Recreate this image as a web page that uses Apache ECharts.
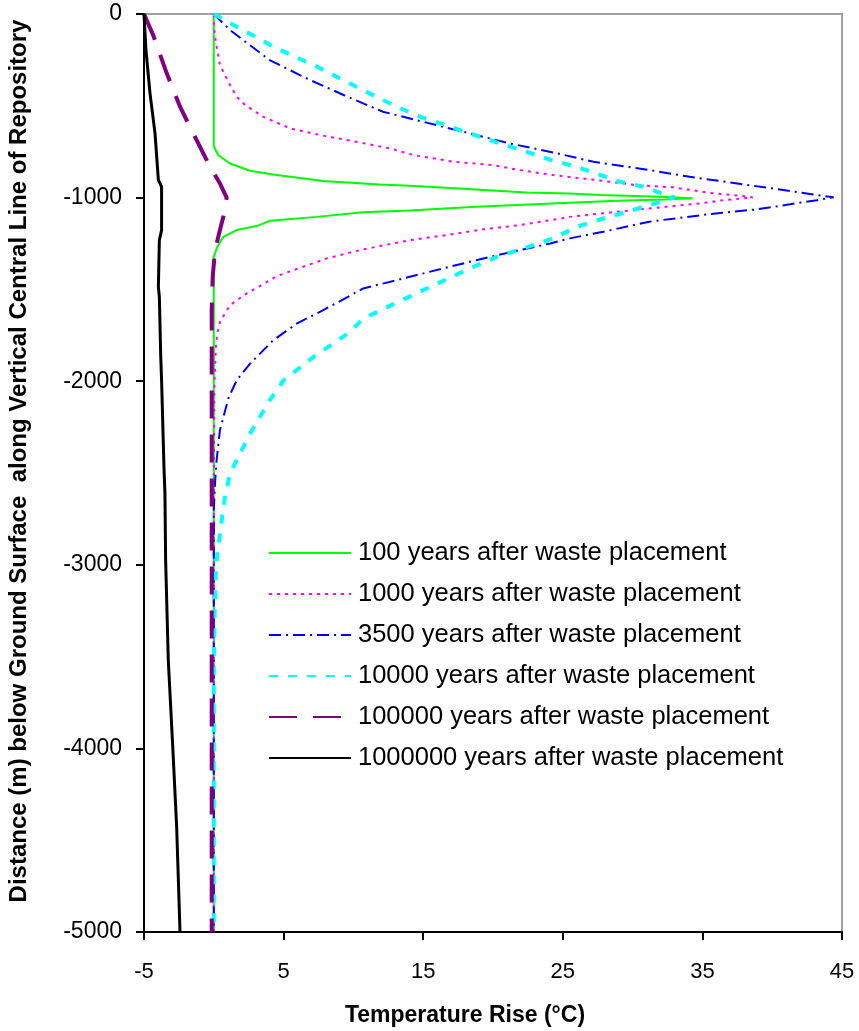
<!DOCTYPE html>
<html>
<head>
<meta charset="utf-8">
<script src="https://cdn.jsdelivr.net/npm/echarts@6/dist/echarts.min.js"></script>
<style>html,body{margin:0;padding:0;background:#fff;}#c{width:859px;height:1031px;}</style>
</head>
<body>
<div id="c"></div>
<script>
// Temperature rise (°C) vs depth (m) for each time after placement
const names = [
  '100 years after waste placement',
  '1000 years after waste placement',
  '3500 years after waste placement',
  '10000 years after waste placement',
  '100000 years after waste placement',
  '1000000 years after waste placement'
];
const xTicks = [-5, 5, 15, 25, 35, 45];

const temp100  = [0, 0, 0.3, 1.16, 2.6, 4.26, 7.84, 11.9, 14.05, 17.6, 22.4, 25.5, 27.7, 32.0, 34.3, 32.2, 28.9, 25.5, 18.8, 14.05, 10.7, 7.37, 4.03, 3.07, 1.64, 0.68, 0.25, 0, 0];
const depth100 = [0, -719, -768, -814, -854, -874, -910, -928, -936, -950, -972, -978, -986, -995, -1003, -1010, -1017, -1028, -1050, -1070, -1080, -1105, -1126, -1155, -1177, -1214, -1268, -1322, -5000];

const temp1000  = [0, 0, 0.16, 0.44, 1.16, 1.64, 2.24, 3.55, 5.46, 7.6, 10.2, 12.6, 14.3, 17.2, 20.0, 21.9, 24.3, 27.0, 30.3, 32.9, 35.5, 38.4, 38.6, 36.5, 35.0, 32.4, 28.9, 25.5, 24.6, 21.9, 19.3, 16.7, 14.05, 10.7, 8.1, 4.5, 2.36, 1.16, 0.44, 0.25, 0.16, 0.05, 0, 0];
const depth1000 = [0, -69, -160, -278, -387, -450, -496, -560, -623, -659, -696, -732, -768, -805, -823, -850, -877, -901, -932, -944, -974, -995, -1000, -1014, -1030, -1050, -1077, -1105, -1117, -1150, -1173, -1204, -1232, -1282, -1331, -1428, -1522, -1586, -1677, -1740, -1795, -2000, -2500, -5000];

const temp3500  = [0, 1.16, 2.1, 4.0, 6.9, 9.3, 12.1, 15.0, 21.2, 24.6, 27.2, 31.2, 34.1, 37.5, 40.8, 43.2, 44.4, 43.2, 38.9, 35.5, 31.2, 27.9, 25.5, 24.1, 21.9, 18.8, 16.4, 13.6, 10.7, 7.84, 5.94, 4.26, 2.6, 1.64, 1.04, 0.44, 0.2, 0.1, 0, 0];
const depth3500 = [0, -87, -142, -251, -360, -441, -532, -587, -705, -759, -805, -850, -887, -923, -959, -986, -998, -1014, -1064, -1090, -1131, -1186, -1222, -1250, -1286, -1341, -1386, -1440, -1495, -1613, -1686, -1777, -1904, -1995, -2094, -2267, -2431, -2540, -2700, -5000];

const temp10000  = [0, 1.64, 4.5, 7.4, 10.2, 13.1, 14.8, 20.5, 22.4, 24.2, 26.0, 29.1, 30.8, 32.4, 33.0, 31.2, 29.6, 27.9, 26.0, 24.3, 22.9, 20.3, 18.6, 15.5, 14.5, 12.6, 10.7, 9.76, 8.56, 7.13, 5.0, 4.0, 2.6, 1.88, 1.16, 0.8, 0.57, 0.32, 0.16, 0.05, 0, 0];
const depth10000 = [0, -69, -187, -287, -396, -505, -560, -705, -750, -796, -832, -914, -941, -986, -998, -1041, -1077, -1114, -1159, -1222, -1259, -1322, -1377, -1486, -1522, -1590, -1659, -1731, -1795, -1868, -1995, -2104, -2285, -2394, -2503, -2631, -2757, -2903, -3012, -3300, -3600, -5000];

const temp100000  = [-5, -4.33, -3.37, -2.42, -1.47, -0.87, -0.27, 0.44, 0.92, 0.8, 0.44, 0.09, -0.08, -0.15, -0.15];
const depth100000 = [0, -118, -323, -505, -650, -741, -832, -923, -1000, -1068, -1177, -1286, -1432, -1613, -5000];

const temp1000000  = [-5, -4.86, -4.57, -4.21, -3.97, -3.74, -3.74, -3.9, -3.97, -3.9, -3.8, -3.74, -3.57, -3.5, -3.45, -3.26, -2.94, -2.66, -2.42];
const depth1000000 = [0, -196, -432, -650, -905, -941, -1177, -1232, -1486, -1541, -1868, -1995, -2467, -2612, -2976, -3520, -3993, -4429, -5000];

function pairs(xs, ys) { return xs.map((x, i) => [x, ys[i]]); }

const FONT = 'Liberation Sans, Arial, sans-serif';
const styles = [
  { color: '#00ff00', width: 2, type: 'solid' },
  { color: '#ff00ff', width: 2, type: [3, 5] },
  { color: '#0000ff', width: 2, type: [12, 5, 2, 5] },
  { color: '#00ffff', width: 4, type: [9, 10] },
  { color: '#800080', width: 4, type: [28, 16] },
  { color: '#000000', width: 3, type: 'solid' }
];
const dataSets = [
  pairs(temp100, depth100),
  pairs(temp1000, depth1000),
  pairs(temp3500, depth3500),
  pairs(temp10000, depth10000),
  pairs(temp100000, depth100000),
  pairs(temp1000000, depth1000000)
];

const series = names.map((n, i) => ({
  name: n,
  type: 'line',
  data: dataSets[i],
  symbol: 'none',
  showSymbol: false,
  smooth: false,
  animation: false,
  lineStyle: styles[i],
  itemStyle: { color: styles[i].color }
}));

const chart = echarts.init(document.getElementById('c'), null, { renderer: 'canvas' });
chart.setOption({
  backgroundColor: '#fff',
  animation: false,
  textStyle: { fontFamily: FONT, color: '#000' },
  grid: { left: 144, right: 17, top: 14, bottom: 99, show: true, borderColor: '#a0a0a0', borderWidth: 2, backgroundColor: 'transparent', containLabel: false, outerBoundsMode: 'none' },
  xAxis: {
    type: 'value', min: -5, max: 45,
    name: 'Temperature Rise (°C)', nameLocation: 'middle', nameGap: 72,
    nameTextStyle: { fontSize: 23, fontWeight: 'bold', color: '#000', fontFamily: FONT, padding: [0, 56, 0, 0] },
    axisLine: { show: true, onZero: false, lineStyle: { color: '#000', width: 2 } },
    axisTick: { show: true, inside: false, length: 8, customValues: xTicks, lineStyle: { color: '#000', width: 2 } },
    axisLabel: { customValues: xTicks, margin: 29, fontSize: 22, color: '#000', fontFamily: FONT },
    splitLine: { show: false }
  },
  yAxis: {
    type: 'value', min: -5000, max: 0, interval: 1000,
    name: 'Distance (m) below Ground Surface  along Vertical Central Line of Repository',
    nameLocation: 'middle', nameGap: 113, nameRotate: 90,
    nameTextStyle: { fontSize: 24, fontWeight: 'bold', color: '#000', fontFamily: FONT, padding: [0, 0, 0, 24] },
    axisLine: { show: true, onZero: false, lineStyle: { color: '#000', width: 2 } },
    axisTick: { show: true, inside: false, length: 8, lineStyle: { color: '#000', width: 2 } },
    axisLabel: { margin: 22, fontSize: 23, color: '#000', fontFamily: FONT, formatter: v => String(v) },
    splitLine: { show: false }
  },
  legend: {
    orient: 'vertical', left: 263, top: 535,
    itemWidth: 82, itemHeight: 20, itemGap: 15,
    itemStyle: { opacity: 0 },
    textStyle: { fontSize: 25.5, lineHeight: 25, color: '#000', fontFamily: FONT, padding: [0, 0, 0, 2] },
    data: names
  },
  series: series
});
</script>
</body>
</html>
